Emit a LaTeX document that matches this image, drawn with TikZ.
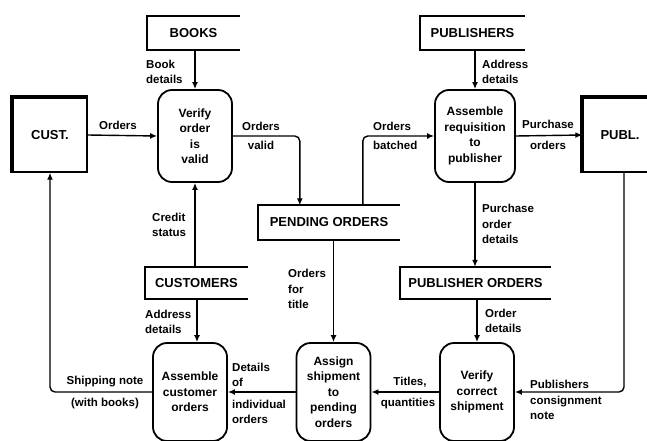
\documentclass[tikz,border=0pt]{standalone}
\usepackage{fontspec}
\setmainfont{Liberation Sans}
\usetikzlibrary{arrows.meta, positioning}
\newcommand{\proctext}{\fontsize{12}{15.5}\selectfont\bfseries}
\newcommand{\storetext}{\fontsize{13}{15}\selectfont\bfseries}
\newcommand{\flowtext}{\fontsize{11.5}{15.5}\selectfont\bfseries}
\tikzstyle{process} = [rectangle, rounded corners=14pt, minimum width=74pt, minimum height=98pt, text centered, align=center, draw=black, line width=1.8pt, font=\proctext]
\tikzstyle{entity} = [rectangle, minimum width=74pt, minimum height=74pt, text centered, draw=black, line width=1.4pt, font=\storetext]
\tikzstyle{store} = [rectangle, minimum height=34pt, text centered, font=\storetext]
\tikzstyle{flow} = [font=\flowtext, inner sep=0pt, align=left]
\tikzstyle{arrow} = [line width=1.4pt, -{Latex[length=7pt,width=6pt]}, rounded corners=5pt]

\begin{document}
\begin{tikzpicture}[x=1pt, y=-1pt]
        \useasboundingbox (0,0) rectangle (647,441);

        % External entities
        \node (cust) [entity] at (50,135) {CUST.};
        \node (publ) [entity] at (620,135) {PUBL.};
        \draw [line width=4pt] (cust.south west) -- (cust.north west) -- (cust.north east);
        \draw [line width=4pt] (publ.south west) -- (publ.north west) -- (publ.north east);

        % Processes
        \node (verify) [process, minimum height=92pt] at (195,136) {Verify\\order\\is\\valid};
        \node (asmreq) [process, minimum width=80pt, minimum height=92pt] at (475,136) {Assemble\\requisition\\to\\publisher};
        \node (asmcust) [process] at (190,392) {Assemble\\customer\\orders};
        \node (assign) [process] at (333.5,392) {Assign\\shipment\\to\\pending\\orders};
        \node (vercorr) [process] at (477,392) {Verify\\correct\\shipment};

        % Data stores
        \node (books) [store, minimum width=93pt] at (193.5,33) {BOOKS};
        \node (publishers) [store, minimum width=105pt] at (472.5,33) {PUBLISHERS};
        \node (pendord) [store, minimum width=142pt] at (329,222.5) {PENDING ORDERS};
        \node (customers) [store, minimum width=103pt, minimum height=32pt] at (196.5,283) {CUSTOMERS};
        \node (pubord) [store, minimum width=151pt, minimum height=32pt] at (475.5,283) {PUBLISHER ORDERS};
        \foreach \s in {books, publishers, pendord, customers, pubord}
            \draw [line width=1.8pt] (\s.north east) -- (\s.north west) -- (\s.south west) -- (\s.south east);

        % Flows
        \draw [arrow] (verify.north |- books.south) -- (verify.north);
        \draw [arrow] (cust.east) -- (verify.west);
        \draw [arrow] (verify.east) -| ([xshift=42pt]pendord.north west);
        \draw [arrow] (verify.south |- customers.north) -- (verify.south);
        \draw [arrow] ([xshift=7pt]asmcust.north |- customers.south) -- ([xshift=7pt]asmcust.north);
        \draw [arrow] (asmcust.west) -| (cust.south);
        \draw [arrow] ([xshift=105pt]pendord.north west) |- (asmreq.west);
        \draw [arrow] (assign.north |- pendord.south) -- (assign.north);
        \draw [arrow] (asmreq.north |- publishers.south) -- (asmreq.north);
        \draw [arrow] (asmreq.east) -- (publ.west);
        \draw [arrow] (asmreq.south) -- (asmreq.south |- pubord.north);
        \draw [arrow] (vercorr.north |- pubord.south) -- (vercorr.north);
        \draw [arrow] ([xshift=4pt]publ.south) |- (vercorr.east);
        \draw [arrow] (vercorr.west) -- (assign.east);
        \draw [arrow] (assign.west) -- (asmcust.east);

        % Flow labels
        \node (lblbook) [flow, anchor=west] at (146,72) {Book\\details};
        \node (lblorders) [flow] at (118,125) {Orders};
        \node (lblvalid) [flow, align=center] at (261,136) {Orders\\[3pt]valid};
        \node (lblcredit) [flow, anchor=west] at (152,225) {Credit\\status};
        \node (lbladdr) [flow, anchor=west] at (145,322) {Address\\details};
        \node (lblship) [flow] at (105,382) {Shipping note};
        \node (lblbooks) [flow] at (105,404) {(with books)};
        \node (lbldet) [flow, anchor=west] at (232,375) {Details\\of};
        \node (lblindiv) [flow, anchor=west] at (232,412) {individual\\orders};
        \node (lbltitle) [flow, anchor=west] at (288,289) {Orders\\for\\title};
        \node (lblbatch) [flow, anchor=west] at (373,136) {Orders\\[3pt]batched};
        \node (lblpaddr) [flow, anchor=west] at (482,72) {Address\\details};
        \node (lblpurch) [flow, align=center] at (548,135) {Purchase\\[5pt]orders};
        \node (lblpod) [flow, anchor=west] at (482,224) {Purchase\\order\\details};
        \node (lblodet) [flow, anchor=west] at (485,321) {Order\\details};
        \node (lbltitles) [flow] at (410,382) {Titles,};
        \node (lblquant) [flow] at (408,404) {quantities};
        \node (lblcons) [flow, anchor=west] at (530,400) {Publishers\\consignment\\note};

\end{tikzpicture}
\end{document}
